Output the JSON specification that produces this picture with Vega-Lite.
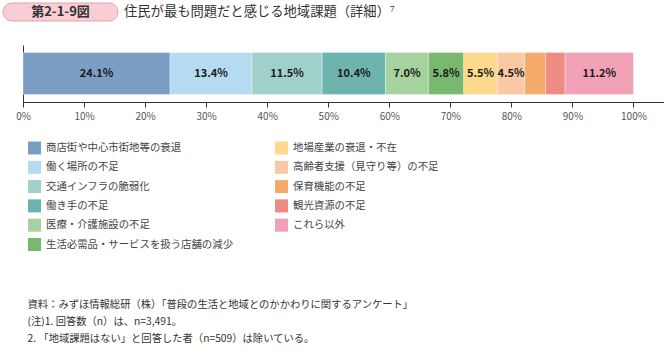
{
  "$schema": "https://vega.github.io/schema/vega-lite/v6.json",
  "padding": {"left": 2, "top": 2, "right": 0, "bottom": 0},
  "config": {
    "view": {"stroke": null},
    "font": "Noto Sans CJK JP"
  },
  "bounds": "flush",
  "spacing": 42,
  "resolve": {"scale": {"color": "independent"}, "legend": {"color": "independent"}},
  "vconcat": [
    {
      "bounds": "flush",
      "spacing": 5,
      "hconcat": [
        {
          "width": 115,
          "height": 18,
          "data": {"values": [{"badge": "第2-1-9図"}]},
          "layer": [
            {
              "mark": {"type": "rect", "fill": "#f9cdd4", "stroke": "#e8a1ad", "strokeWidth": 1, "cornerRadius": 9},
              "encoding": {}
            },
            {
              "mark": {"type": "text", "fontSize": 13, "fontWeight": "bold", "color": "#333333", "font": "Noto Sans CJK JP"},
              "encoding": {"text": {"field": "badge", "type": "nominal"}}
            }
          ]
        },
        {
          "width": 2,
          "height": 18,
          "data": {"values": [{"title": "住民が最も問題だと感じる地域課題（詳細）⁷"}]},
          "mark": {"type": "text", "align": "left", "fontSize": 13.3, "color": "#333333", "font": "Noto Sans CJK JP"},
          "encoding": {"text": {"field": "title", "type": "nominal"}}
        }
      ]
    },
    {
      "bounds": "flush",
      "spacing": 0,
      "resolve": {"scale": {"color": "independent"}, "legend": {"color": "independent"}},
      "hconcat": [
        {
          "width": 20,
          "height": 57,
          "data": {"values": []},
          "mark": "point",
          "encoding": {}
        },
        {
          "width": 642,
          "height": 57,
          "data": {
            "values": [
              {"cat": "商店街や中心市街地等の衰退", "ord": 1, "pct": 0.241},
              {"cat": "働く場所の不足", "ord": 2, "pct": 0.134},
              {"cat": "交通インフラの脆弱化", "ord": 3, "pct": 0.115},
              {"cat": "働き手の不足", "ord": 4, "pct": 0.104},
              {"cat": "医療・介護施設の不足", "ord": 5, "pct": 0.070},
              {"cat": "生活必需品・サービスを扱う店舗の減少", "ord": 6, "pct": 0.058},
              {"cat": "地場産業の衰退・不在", "ord": 7, "pct": 0.055},
              {"cat": "高齢者支援（見守り等）の不足", "ord": 8, "pct": 0.045},
              {"cat": "保育機能の不足", "ord": 9, "pct": 0.034},
              {"cat": "観光資源の不足", "ord": 10, "pct": 0.032},
              {"cat": "これら以外", "ord": 11, "pct": 0.112}
            ]
          },
          "encoding": {
            "y": {
              "datum": "全体",
              "type": "nominal",
              "scale": {"paddingInner": 0, "paddingOuter": 0.18},
              "axis": {
                "title": null,
                "labels": false,
                "ticks": false,
                "domainColor": "#333333",
                "domainWidth": 1,
                "grid": false
              }
            }
          },
          "layer": [
            {
              "mark": {"type": "bar", "stroke": "#ffffff", "strokeWidth": 0.5, "strokeOpacity": 0.7},
              "encoding": {
                "x": {
                  "field": "pct",
                  "type": "quantitative",
                  "stack": "zero",
                  "scale": {"domain": [0, 1.0516], "nice": false, "zero": true},
                  "axis": {
                    "values": [0, 0.1, 0.2, 0.3, 0.4, 0.5, 0.6, 0.7, 0.8, 0.9, 1.0],
                    "format": ".0%",
                    "grid": false,
                    "domainColor": "#333333",
                    "domainWidth": 1,
                    "tickColor": "#333333",
                    "tickSize": 5,
                    "labelColor": "#555555",
                    "labelFontSize": 10,
                    "labelPadding": 4,
                    "labelFlush": false,
                    "title": [
                      "資料：みずほ情報総研（株）「普段の生活と地域とのかかわりに関するアンケート」",
                      "(注)1. 回答数（n）は、n=3,491。",
                      "2. 「地域課題はない」と回答した者（n=509）は除いている。"
                    ],
                    "titleX": 4,
                    "titleY": 197,
                    "titleAlign": "left",
                    "titleBaseline": "top",
                    "titleFontSize": 10.3,
                    "titleFontWeight": "normal",
                    "titleColor": "#333333",
                    "titleLineHeight": 17
                  }
                },
                "color": {
                  "field": "cat",
                  "type": "nominal",
                  "scale": {
                    "domain": [
                      "商店街や中心市街地等の衰退",
                      "働く場所の不足",
                      "交通インフラの脆弱化",
                      "働き手の不足",
                      "医療・介護施設の不足",
                      "生活必需品・サービスを扱う店舗の減少",
                      "地場産業の衰退・不在",
                      "高齢者支援（見守り等）の不足",
                      "保育機能の不足",
                      "観光資源の不足",
                      "これら以外"
                    ],
                    "range": [
                      "#7b9ec5",
                      "#b5dbf0",
                      "#a0d0ca",
                      "#6db3ae",
                      "#a5d29e",
                      "#78b96f",
                      "#fdd98b",
                      "#f9c9a3",
                      "#f4aa6a",
                      "#ee8b83",
                      "#f1a1b5"
                    ]
                  },
                  "legend": {
                    "orient": "none",
                    "legendX": 5,
                    "legendY": 96.5,
                    "columns": 2,
                    "columnPadding": 41,
                    "rowPadding": 6.3,
                    "symbolType": "square",
                    "symbolSize": 169,
                    "symbolStrokeWidth": 0,
                    "symbolOpacity": 1,
                    "labelFontSize": 10.4,
                    "labelColor": "#444444",
                    "labelOffset": 5,
                    "labelLimit": 400,
                    "title": null,
                    "padding": 0,
                    "gridAlign": "each"
                  }
                },
                "order": {"field": "ord", "type": "quantitative"}
              }
            },
            {
              "transform": [
                {"stack": "pct", "groupby": [], "sort": [{"field": "ord", "order": "ascending"}], "as": ["s0", "s1"]},
                {"filter": "datum.pct > 0.04"},
                {"fold": ["s0", "s1"], "as": ["edge", "pos"]}
              ],
              "mark": {"type": "text", "fontSize": 11, "fontWeight": "bold", "color": "#1a1a1a", "font": "Noto Sans CJK JP"},
              "encoding": {
                "x": {"field": "pos", "type": "quantitative", "aggregate": "mean"},
                "text": {"field": "pct", "type": "quantitative", "format": ".1%"},
                "detail": {"field": "cat", "type": "nominal"}
              }
            }
          ]
        }
      ]
    }
  ]
}
